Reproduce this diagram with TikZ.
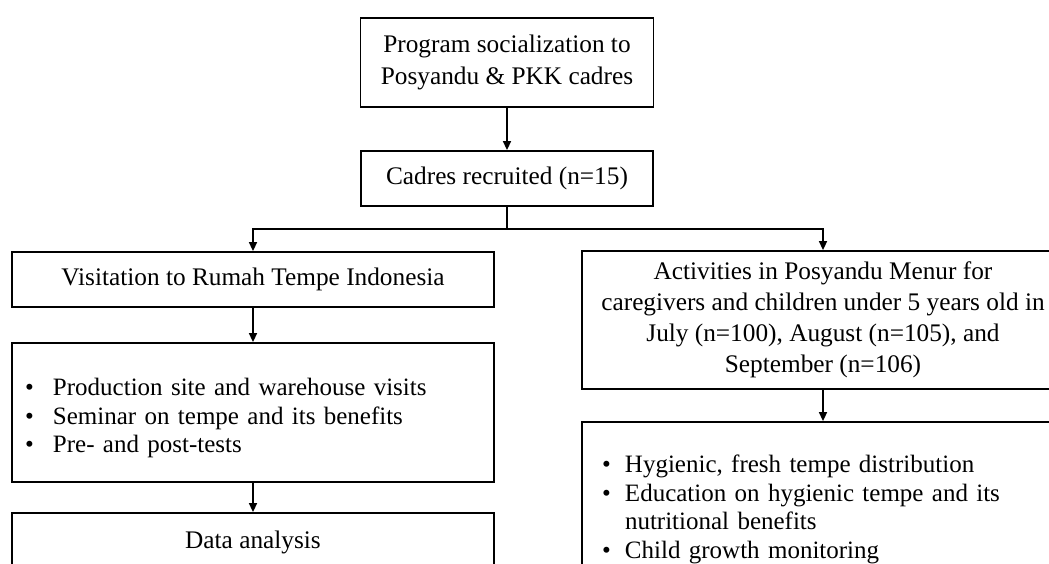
\documentclass[tikz,border=0pt]{standalone}
\usepackage{fontspec}
\setmainfont{Liberation Serif}
\usetikzlibrary{arrows.meta}
\newcommand\bitem[2]{\par\hangindent=#1\hangafter=1\noindent\makebox[#1][l]{\textbullet}#2\par}
\begin{document}
\begin{tikzpicture}[x=1pt,y=-1pt,
  box/.style={draw, line width=1.8pt, inner sep=0pt, font=\fontsize{25.3}{30}\selectfont, align=center},
  lbox/.style={draw, line width=1.8pt, inner sep=0pt, font=\fontsize{25}{28.5}\selectfont, align=left},
  arr/.style={line width=1.5pt, -{Triangle[length=9pt,width=8pt]}},
  ln/.style={line width=1.5pt}]
\useasboundingbox (0,0) rectangle (1049,563);
\clip (0,0) rectangle (1049,563);
\fill[white] (0,0) rectangle (1049,563);

\node[box, minimum width=293pt, minimum height=89pt, font=\fontsize{25.3}{32}\selectfont] (b1) at (507,62.5)
  {Program socialization to\\Posyandu \& PKK cadres};
\node[box, minimum width=292pt, minimum height=55pt] (b2) at (507,178.5)
  {Cadres recruited (n=15)};
\coordinate (j) at (507,229);

\node[box, minimum width=482pt, minimum height=55pt] (b3) at (253,279.5)
  {Visitation to Rumah Tempe Indonesia};
\node[lbox, minimum width=482pt, minimum height=139pt, text width=456pt] (b4) at (253,412.5)
  {\bitem{28pt}{Production site and warehouse visits}\bitem{28pt}{Seminar on tempe and its benefits}\bitem{28pt}{Pre- and post-tests}};
\node[box, minimum width=482pt, minimum height=58pt] (b5) at (253,542)
  {Data analysis};

\node[box, minimum width=482pt, minimum height=138pt, font=\fontsize{25.3}{31}\selectfont] (b6) at (823,320)
  {Activities in Posyandu Menur for\\caregivers and children under 5 years old in\\July (n=100), August (n=105), and\\September (n=106)};
\node[lbox, minimum width=482pt, minimum height=164pt, text width=442pt] (b7) at (823,504)
  {\bitem{23pt}{Hygienic, fresh tempe distribution}\bitem{23pt}{Education on hygienic tempe and its\newline nutritional benefits}\bitem{23pt}{Child growth monitoring}};

\draw[arr] (b1) -- (b2);
\draw[ln] (b2) -- (j);
\draw[arr] (j) -| (b3.north);
\draw[arr] (j) -| (b6.north);
\draw[arr] (b3) -- (b4);
\draw[arr] (b4) -- (b5);
\draw[arr] (b6) -- (b7);
\end{tikzpicture}
\end{document}
